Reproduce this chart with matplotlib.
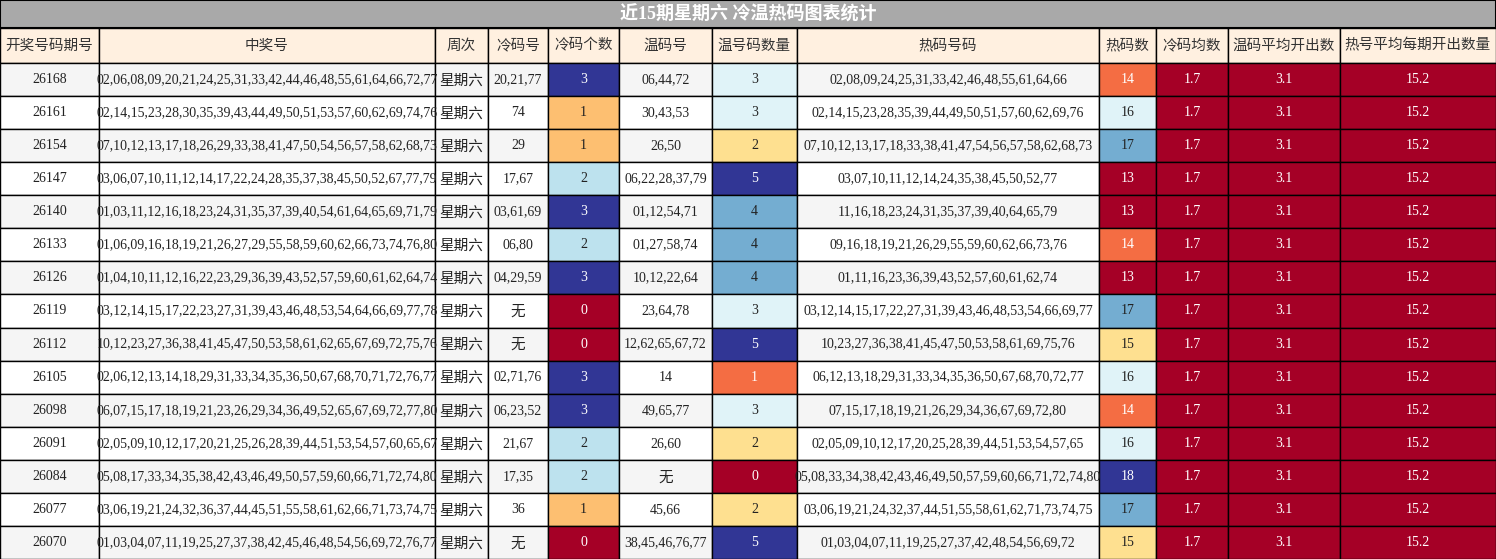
import matplotlib
matplotlib.use("Agg")
import matplotlib.pyplot as plt
from matplotlib import cm, colors
import numpy as np

title = "近15期星期六 冷温热码图表统计"
headers = ["开奖号码期号", "中奖号", "周次", "冷码号", "冷码个数", "温码号", "温号码数量", "热码号码", "热码数", "冷码均数", "温码平均开出数", "热号平均每期开出数量"]
periods = ["26168","26161","26154","26147","26140","26133","26126","26119","26112","26105","26098","26091","26084","26077","26070"]
winning = [
"02,06,08,09,20,21,24,25,31,33,42,44,46,48,55,61,64,66,72,77",
"02,14,15,23,28,30,35,39,43,44,49,50,51,53,57,60,62,69,74,76",
"07,10,12,13,17,18,26,29,33,38,41,47,50,54,56,57,58,62,68,73",
"03,06,07,10,11,12,14,17,22,24,28,35,37,38,45,50,52,67,77,79",
"01,03,11,12,16,18,23,24,31,35,37,39,40,54,61,64,65,69,71,79",
"01,06,09,16,18,19,21,26,27,29,55,58,59,60,62,66,73,74,76,80",
"01,04,10,11,12,16,22,23,29,36,39,43,52,57,59,60,61,62,64,74",
"03,12,14,15,17,22,23,27,31,39,43,46,48,53,54,64,66,69,77,78",
"10,12,23,27,36,38,41,45,47,50,53,58,61,62,65,67,69,72,75,76",
"02,06,12,13,14,18,29,31,33,34,35,36,50,67,68,70,71,72,76,77",
"06,07,15,17,18,19,21,23,26,29,34,36,49,52,65,67,69,72,77,80",
"02,05,09,10,12,17,20,21,25,26,28,39,44,51,53,54,57,60,65,67",
"05,08,17,33,34,35,38,42,43,46,49,50,57,59,60,66,71,72,74,80",
"03,06,19,21,24,32,36,37,44,45,51,55,58,61,62,66,71,73,74,75",
"01,03,04,07,11,19,25,27,37,38,42,45,46,48,54,56,69,72,76,77"]
weekday = ["星期六"] * 15
cold = ["20,21,77","74","29","17,67","03,61,69","06,80","04,29,59","无","无","02,71,76","06,23,52","21,67","17,35","36","无"]
cold_n = [3,1,1,2,3,2,3,0,0,3,3,2,2,1,0]
warm = ["06,44,72","30,43,53","26,50","06,22,28,37,79","01,12,54,71","01,27,58,74","10,12,22,64","23,64,78","12,62,65,67,72","14","49,65,77","26,60","无","45,66","38,45,46,76,77"]
warm_n = [3,3,2,5,4,4,4,3,5,1,3,2,0,2,5]
hot = [
"02,08,09,24,25,31,33,42,46,48,55,61,64,66",
"02,14,15,23,28,35,39,44,49,50,51,57,60,62,69,76",
"07,10,12,13,17,18,33,38,41,47,54,56,57,58,62,68,73",
"03,07,10,11,12,14,24,35,38,45,50,52,77",
"11,16,18,23,24,31,35,37,39,40,64,65,79",
"09,16,18,19,21,26,29,55,59,60,62,66,73,76",
"01,11,16,23,36,39,43,52,57,60,61,62,74",
"03,12,14,15,17,22,27,31,39,43,46,48,53,54,66,69,77",
"10,23,27,36,38,41,45,47,50,53,58,61,69,75,76",
"06,12,13,18,29,31,33,34,35,36,50,67,68,70,72,77",
"07,15,17,18,19,21,26,29,34,36,67,69,72,80",
"02,05,09,10,12,17,20,25,28,39,44,51,53,54,57,65",
"05,08,33,34,38,42,43,46,49,50,57,59,60,66,71,72,74,80",
"03,06,19,21,24,32,37,44,51,55,58,61,62,71,73,74,75",
"01,03,04,07,11,19,25,27,37,42,48,54,56,69,72"]
hot_n = [14,16,17,13,13,14,13,17,15,16,14,16,18,17,15]
cold_avg = [1.7] * 15
warm_avg = [3.1] * 15
hot_avg = [15.2] * 15

W, H = 1496, 559
fig = plt.figure(figsize=(W/100, H/100), dpi=100)
ax = fig.add_axes([0, 0, 1, 1])
ax.set_xlim(0, W); ax.set_ylim(H, 0); ax.axis("off")
fam = ["Liberation Serif", "Noto Sans CJK SC", "DejaVu Sans"]
cjk = ["Noto Sans CJK SC", "DejaVu Sans"]

xs = [0, 99, 435, 488, 548, 619, 712, 797, 1099, 1156, 1228, 1340, 1496]
title_h, head_y0, head_y1 = 28, 28, 63
row_h = (H - head_y1) / 15
cmap = cm.get_cmap("RdYlBu") if hasattr(cm, "get_cmap") else matplotlib.colormaps["RdYlBu"]

def rect(x0, y0, x1, y1, fc, lw=1.0):
    ax.add_patch(plt.Rectangle((x0, y0), x1-x0, y1-y0, facecolor=fc, edgecolor="black", linewidth=lw))

rect(0, 0, W, title_h, "#a9a9a9", 1.5)
ax.text(W/2, title_h/2, title, ha="center", va="center", color="white", fontsize=13, fontweight="bold", family=["Liberation Serif", "Noto Sans CJK SC"])
for i, h in enumerate(headers):
    rect(xs[i], head_y0, xs[i+1], head_y1, "#fff0e0")
    ax.text((xs[i]+xs[i+1])/2, (head_y0+head_y1)/2, h, ha="center", va="center", fontsize=10.5, color="#333333", family=cjk)

def heat(vals):
    v = np.array(vals, float)
    lo, hi = v.min(), v.max()
    if hi == lo:
        return [cmap(0.0)] * len(v)
    return [cmap((x-lo)/(hi-lo)) for x in v]

cc, wc, hc = heat(cold_n), heat(warm_n), heat(hot_n)
ca, wa, ha_ = heat(cold_avg), heat(warm_avg), heat(hot_avg)

def txtcol(c):
    r, g, b = c[:3]
    return "white" if 0.299*r+0.587*g+0.114*b < 0.6 else "#222222"

for r in range(15):
    y0 = head_y1 + r*row_h; y1 = y0 + row_h; yc = (y0+y1)/2
    bg = "#f5f5f5" if r % 2 == 0 else "white"
    cells = [(periods[r], bg), (winning[r], bg), (weekday[r], bg), (cold[r], bg),
             (str(cold_n[r]), cc[r]), (warm[r], bg), (str(warm_n[r]), wc[r]), (hot[r], bg),
             (str(hot_n[r]), hc[r]), (f"{cold_avg[r]:.1f}", ca[r]), (f"{warm_avg[r]:.1f}", wa[r]), (f"{hot_avg[r]:.1f}", ha_[r])]
    for i, (t, fc) in enumerate(cells):
        rect(xs[i], y0, xs[i+1], y1, fc)
        col = txtcol(colors.to_rgba(fc))
        is_cjk = t in ("星期六", "无")
        ax.text((xs[i]+xs[i+1])/2, yc + (1 if is_cjk else 0), t, ha="center", va="center",
                fontsize=10.5 if is_cjk else 10, color=col, family=cjk if is_cjk else fam)

fig.savefig("out.png", dpi=100)
